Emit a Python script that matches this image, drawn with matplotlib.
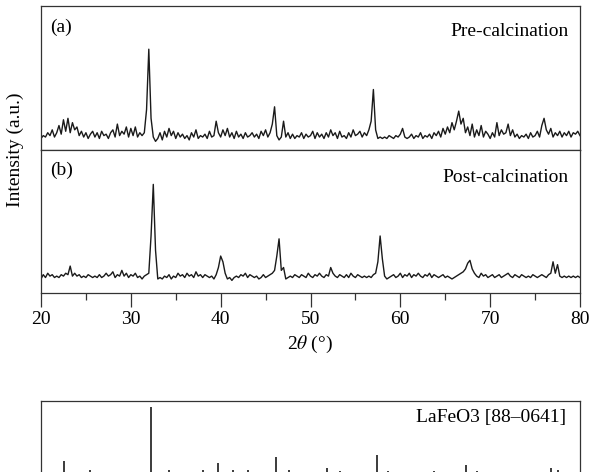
import numpy as np
import matplotlib
matplotlib.use("Agg")
import matplotlib.pyplot as plt
from matplotlib.ticker import MultipleLocator

# 2theta grid, 0.25 deg step
two_theta = np.linspace(20, 80, 241)

# (a) pre-calcination pattern
pre = [
    8, 10, 9, 12, 10, 14, 9, 12,
    17, 11, 21, 13, 22, 12, 19, 14,
    16, 10, 13, 9, 12, 8, 11, 13,
    9, 12, 8, 13, 10, 11, 8, 12,
    14, 9, 18, 10, 13, 11, 16, 9,
    15, 10, 16, 9, 12, 10, 12, 28,
    70, 22, 9, 6, 8, 12, 7, 13,
    9, 15, 10, 13, 8, 12, 9, 11,
    8, 10, 7, 12, 9, 14, 8, 10,
    9, 11, 8, 13, 9, 10, 20, 12,
    9, 14, 10, 15, 9, 12, 8, 13,
    9, 11, 8, 12, 9, 10, 12, 9,
    11, 8, 13, 10, 14, 9, 12, 18,
    30, 10, 7, 9, 20, 9, 12, 8,
    11, 8, 10, 9, 12, 8, 11, 9,
    10, 13, 8, 12, 9, 11, 8, 12,
    9, 14, 10, 12, 8, 13, 9, 10,
    8, 12, 9, 14, 10, 11, 13, 9,
    12, 10, 14, 20, 42, 14, 8, 9,
    8, 9, 8, 10, 9, 8, 10, 9,
    11, 15, 9, 8, 9, 11, 8, 10,
    9, 12, 8, 10, 9, 11, 8, 12,
    10, 13, 9, 15, 11, 16, 12, 19,
    14, 20, 27, 18, 22, 12, 16, 10,
    18, 9, 14, 10, 17, 9, 13, 11,
    8, 12, 9, 19, 10, 14, 11, 12,
    18, 10, 14, 9, 11, 8, 10, 9,
    11, 8, 12, 9, 10, 13, 9, 17,
    22, 14, 11, 15, 9, 12, 10, 13,
    9, 12, 10, 13, 9, 12, 11, 13,
    10,
]

# (b) post-calcination pattern
post = [
    10, 13, 11, 14, 12, 13, 11, 12,
    11, 13, 12, 14, 13, 19, 12, 14,
    12, 13, 11, 12, 11, 13, 12, 11,
    12, 11, 13, 11, 12, 14, 12, 13,
    15, 11, 13, 12, 16, 12, 14, 11,
    13, 12, 14, 11, 12, 10, 12, 13,
    14, 40, 76, 30, 10, 11, 10, 12,
    11, 13, 10, 12, 11, 14, 12, 13,
    11, 14, 12, 13, 11, 15, 12, 13,
    11, 13, 12, 11, 12, 10, 13, 18,
    26, 22, 14, 10, 11, 9, 11, 12,
    11, 13, 12, 14, 11, 13, 12, 11,
    12, 10, 11, 13, 11, 12, 13, 14,
    16, 26, 38, 16, 18, 10, 11, 12,
    11, 13, 12, 11, 13, 12, 11, 14,
    12, 11, 13, 12, 14, 12, 11, 13,
    12, 18, 14, 12, 11, 13, 12, 11,
    13, 11, 14, 12, 11, 13, 12, 11,
    12, 11, 12, 11, 13, 14, 22, 40,
    24, 12, 10, 11, 12, 13, 11, 12,
    14, 11, 13, 12, 14, 11, 13, 12,
    14, 12, 11, 13, 12, 14, 11, 13,
    12, 11, 12, 13, 11, 12, 11, 10,
    11, 12, 13, 14, 15, 17, 21, 23,
    17, 14, 12, 11, 14, 12, 13, 11,
    12, 13, 11, 12, 13, 11, 12, 13,
    14, 12, 11, 13, 12, 11, 13, 12,
    11, 12, 11, 13, 12, 11, 12, 13,
    12, 11, 13, 14, 22, 14, 20, 12,
    11, 12, 11, 12, 11, 12, 11, 12,
    11,
]

# LaFeO3 reference card [88-0641] sticks
ref_pos = [22.6, 25.4, 32.25, 34.2, 38.0, 39.7, 41.4, 43.0, 46.2, 47.6, 51.8,
           53.3, 57.4, 58.6, 63.7, 67.3, 68.5, 72.2, 73.1, 76.8, 77.6]
ref_int = [21, 8, 100, 8, 8, 18, 8, 8, 27, 8, 11,
           7, 30, 7, 7, 16, 7, 6, 6, 11, 8]

plt.rcParams['font.family'] = ['Liberation Serif', 'DejaVu Serif']
plt.rcParams['mathtext.fontset'] = 'stix'

W, H = 590, 472
fig = plt.figure(figsize=(W / 100, H / 100), dpi=100)

def px_axes(left, top, right, bottom):
    return fig.add_axes([left / W, 1 - bottom / H, (right - left) / W, (bottom - top) / H])

ax_a = px_axes(41, 6, 580, 150)
ax_b = px_axes(41, 150, 580, 293.3)
ax_c = px_axes(41, 401, 580, 480)

lc = '#1a1a1a'
fs = 14
for ax in (ax_a, ax_b, ax_c):
    ax.set_xlim(20, 80)
    for s in ax.spines.values():
        s.set_color('#333333')
        s.set_linewidth(0.9)
    ax.set_yticks([])

ax_a.plot(two_theta, pre, color=lc, lw=1.0)
ax_b.plot(two_theta, post, color=lc, lw=1.0)
ax_a.set_ylim(0, 100)
ax_b.set_ylim(0, 100)

ax_a.set_xticks([])
ax_b.xaxis.set_major_locator(MultipleLocator(10))
ax_b.xaxis.set_minor_locator(MultipleLocator(5))
ax_b.tick_params(axis='x', which='major', direction='out', length=10, width=0.9,
                 color='#333333', labelsize=fs, pad=3)
ax_b.tick_params(axis='x', which='minor', direction='out', length=5, width=0.9,
                 color='#333333')
ax_b.set_xlabel(r'2$\theta$ (°)', fontsize=fs, labelpad=4)

ax_c.vlines(ref_pos, 0, ref_int, color=lc, lw=1.2)
ax_c.set_ylim(-6, 108)
ax_c.set_xticks([])

ax_a.text(0.017, 0.855, '(a)', transform=ax_a.transAxes, fontsize=fs, va='center', ha='left')
ax_a.text(0.978, 0.82, 'Pre-calcination', transform=ax_a.transAxes, fontsize=fs,
          va='center', ha='right')
ax_b.text(0.017, 0.86, '(b)', transform=ax_b.transAxes, fontsize=fs, va='center', ha='left')
ax_b.text(0.978, 0.81, 'Post-calcination', transform=ax_b.transAxes, fontsize=fs,
          va='center', ha='right')
ax_c.text(0.974, 0.785, 'LaFeO3 [88–0641]', transform=ax_c.transAxes, fontsize=fs,
          va='center', ha='right')

fig.text(15 / W, 1 - 150 / H, 'Intensity (a.u.)', rotation=90, fontsize=fs,
         va='center', ha='center')

fig.savefig('out.png', dpi=100)
